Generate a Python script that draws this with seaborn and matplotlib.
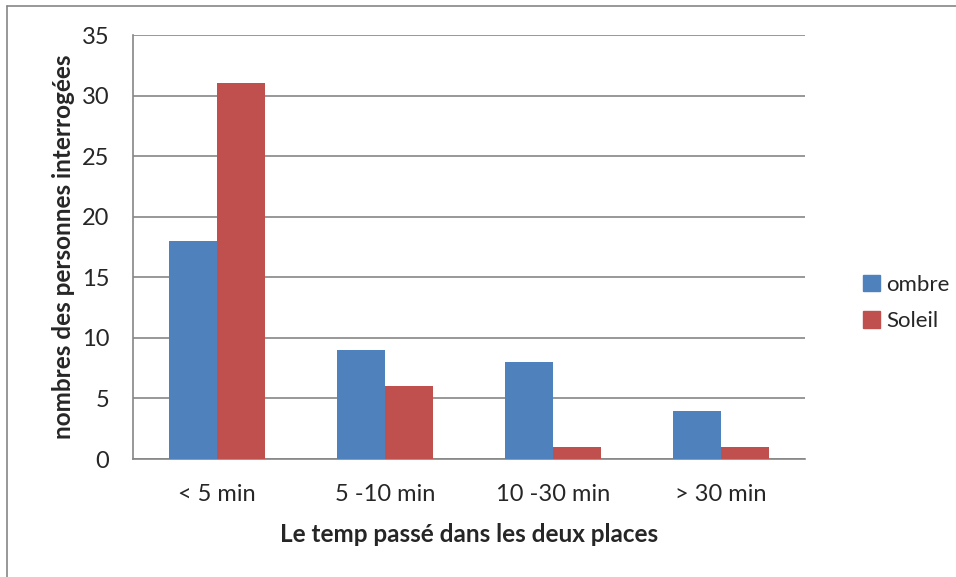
import pandas as pd
import seaborn as sns
import matplotlib.pyplot as plt
from matplotlib.lines import Line2D

# data
categories = ["< 5 min", "5 -10 min", "10 -30 min", "> 30 min"]
ombre = [18, 9, 8, 4]
soleil = [31, 6, 1, 1]
series_names = ["ombre", "Soleil"]
colors = ["#4F81BD", "#C0504D"]

df = pd.DataFrame({
    "temps": categories * 2,
    "n": ombre + soleil,
    "serie": [series_names[0]] * 4 + [series_names[1]] * 4,
})

sns.set_style("white")
plt.rcParams["font.family"] = ["Lato", "DejaVu Sans"]

fig = plt.figure(figsize=(9.56, 5.77), dpi=100)
ax = fig.add_axes([133 / 956, 1 - 459 / 577, (805 - 133) / 956, (459 - 35) / 577])

sns.barplot(data=df, x="temps", y="n", hue="serie", palette=colors,
            width=0.571, gap=0, saturation=1, ax=ax, legend=False,
            edgecolor="none", zorder=3)

ax.set_ylim(0, 35)
ax.set_yticks(range(0, 36, 5))
ax.set_xlim(-0.5, 3.5)
ax.yaxis.grid(True, color="#868686", linewidth=1.2, zorder=0)
ax.set_axisbelow(True)
for s in ["top", "right"]:
    ax.spines[s].set_visible(False)
ax.spines["left"].set_color("#868686")
ax.spines["bottom"].set_color("#868686")
ax.spines["left"].set_linewidth(1.2)
ax.spines["bottom"].set_linewidth(1.2)

ax.tick_params(axis="y", length=5, width=1.2, color="#868686", pad=12, labelsize=17)
ax.tick_params(axis="x", length=0, pad=18, labelsize=17)

ax.set_xlabel("Le temp passé dans les deux places", fontsize=17.5, fontweight="bold", labelpad=13)
ax.set_ylabel("nombres des personnes interrogées", fontsize=17.5, fontweight="bold", labelpad=5)

handles = [plt.Rectangle((0, 0), 1, 1, color=c) for c in colors]
fig.legend(handles, series_names, loc="center left", bbox_to_anchor=(843 / 956, 1 - 303 / 577),
           frameon=False, fontsize=16, handlelength=0.75, handleheight=0.75,
           handletextpad=0.3, labelspacing=0.75)

# chart border (only left and top edges visible)
fig.add_artist(Line2D([7 / 956, 7 / 956], [0, 1 - 6 / 577], color="#868686", linewidth=1.2))
fig.add_artist(Line2D([7 / 956, 1], [1 - 6 / 577, 1 - 6 / 577], color="#868686", linewidth=1.2))

fig.savefig("out.png", dpi=100)
